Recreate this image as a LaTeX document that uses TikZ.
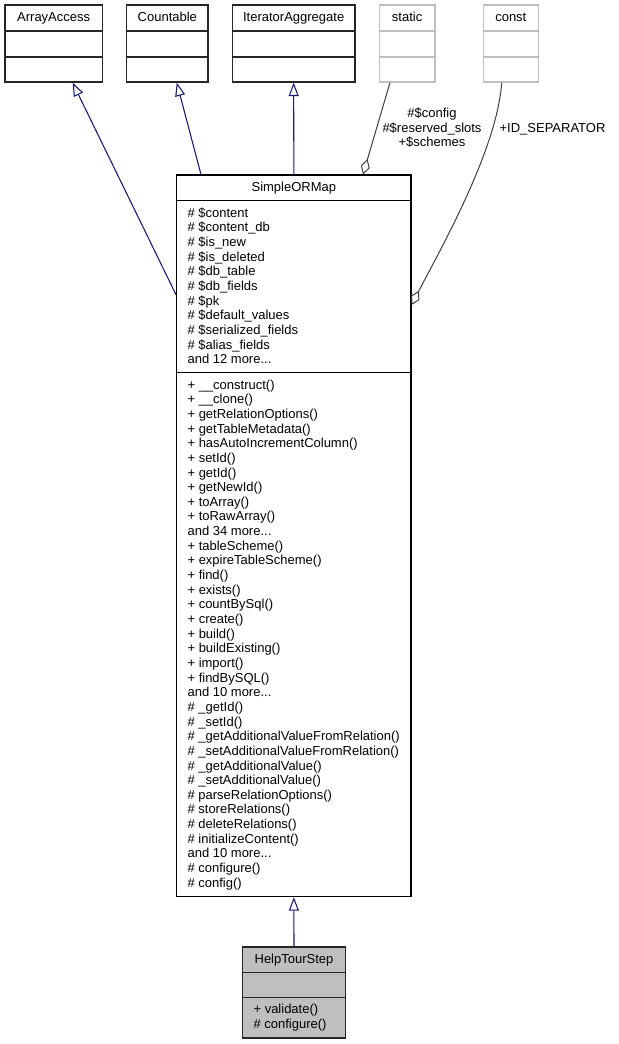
\documentclass[tikz,border=0pt]{standalone}
\usepackage{fontspec}
\setmainfont{Liberation Sans}
\usetikzlibrary{arrows.meta}
\usetikzlibrary{calc}
\usetikzlibrary{fit}
\definecolor{edgeblue}{HTML}{191970}
\definecolor{edgegray}{HTML}{404040}
\definecolor{ghostgray}{HTML}{BFBFBF}
\definecolor{leafgray}{HTML}{BFBFBF}
\newcommand{\umlfont}{\fontsize{9.75pt}{11pt}\selectfont}
\newcommand{\more}[1]{and #1 more...}
\tikzset{cls/.style = {draw=black!85, line width=1.1pt, fill=white, inner sep=0}}
\tikzset{mainclass/.style = {draw=black, line width=0.8pt, fill=white, inner sep=0}}
\tikzset{ghost/.style = {draw=ghostgray, line width=1.1pt, fill=white, inner sep=0}}
\tikzset{leaf/.style = {draw=black!85, line width=1.1pt, fill=leafgray, inner sep=0}}
\tikzset{title/.style = {anchor=base, inner sep=0, font=\umlfont}}
\tikzset{member/.style = {anchor=base west, inner sep=0, font=\umlfont}}
\tikzset{inherit/.style = {draw=edgeblue, line width=0.8pt,
                           -{Triangle[open, length=10pt, width=7.5pt]}}}
\tikzset{aggr/.style = {draw=edgegray, line width=0.75pt,
                        -{Diamond[open, length=12pt, width=7pt]}}}
\begin{document}
\begin{tikzpicture}[x=0.75pt, y=-0.75pt]
  \useasboundingbox (0,0) rectangle (618,1044);

  % parents
  \node [cls, fit={(5,5) (102.3,82)}] (arrayaccess) {};
  \node [cls, fit={(126.7,5) (208,82)}] (countable) {};
  \node [cls, fit={(232.3,5) (355,82)}] (iteraggr) {};
  \node [ghost, fit={(379.3,5) (435,82)}] (static) {};
  \node [ghost, fit={(483.3,5) (538.3,82)}] (const) {};
  \foreach \n/\s in {arrayaccess/cls, countable/cls, iteraggr/cls, static/ghost, const/ghost} {
    \draw [\s] (\n.west |- 0,31) -- (\n.east |- 0,31);
    \draw [\s] (\n.west |- 0,57) -- (\n.east |- 0,57);
  }
  \node [title] at (arrayaccess.north |- 0,21.5) {ArrayAccess};
  \node [title] at (countable.north |- 0,21.5) {Countable};
  \node [title] at (iteraggr.north |- 0,21.5) {IteratorAggregate};
  \node [title] at (static.north |- 0,21.5) {static};
  \node [title] at (const.north |- 0,21.5) {const};

  % SimpleORMap
  \node [mainclass, fit={(176.7,175) (411,896.7)}] (sorm) {};
  \draw [mainclass] (sorm.west |- 0,200.8) -- (sorm.east |- 0,200.8);
  \draw [mainclass] (sorm.west |- 0,372.8) -- (sorm.east |- 0,372.8);
  \node [title] at (sorm.north |- 0,191.5) {SimpleORMap};
  \foreach \t [count=\i from 0] in {\# \$content, \# \$content\_db, \# \$is\_new,
      \# \$is\_deleted, \# \$db\_table, \# \$db\_fields, \# \$pk, \# \$default\_values,
      \# \$serialized\_fields, \# \$alias\_fields, \more{12}}
    \node [member] (sattr\i) at (187.3, {217.3+\i*14.65}) {\t};
  \foreach \t [count=\i from 0] in {+ \_\_construct(), + \_\_clone(), + getRelationOptions(),
      + getTableMetadata(), + hasAutoIncrementColumn(), + setId(), + getId(), + getNewId(),
      + toArray(), + toRawArray(), \more{34}, + tableScheme(), + expireTableScheme(),
      + find(), + exists(), + countBySql(), + create(), + build(), + buildExisting(),
      + import(), + findBySQL(), \more{10}, \# \_getId(), \# \_setId(),
      \# \_getAdditionalValueFromRelation(), \# \_setAdditionalValueFromRelation(),
      \# \_getAdditionalValue(), \# \_setAdditionalValue(), \# parseRelationOptions(),
      \# storeRelations(), \# deleteRelations(), \# initializeContent(), \more{10},
      \# configure(), \# config()}
    \node [member] (sop\i) at (187.3, {389.1+\i*14.65}) {\t};

  % HelpTourStep
  \node [leaf, fit={(242.3,946.8) (345.7,1037.8)}] (helptourstep) {};
  \draw [leaf] (helptourstep.west |- 0,972.5) -- (helptourstep.east |- 0,972.5);
  \draw [leaf] (helptourstep.west |- 0,997.5) -- (helptourstep.east |- 0,997.5);
  \node [title] at (helptourstep.north |- 0,963.3) {HelpTourStep};
  \node [member] (hvalidate) at (253.3,1013.8) {+ validate()};
  \node [member] (hconfigure) at (253.3,1028.45) {\# configure()};

  % edges
  \draw [inherit] (sorm.west |- 0,295) -- ($(arrayaccess.south)+(19,0)$);
  \draw [inherit] (sorm.north -| 201,0) -- ($(countable.south)+(9.4,0)$);
  \draw [inherit] (sorm.north) -- (iteraggr.south);
  \draw [inherit] (helptourstep.north) -- (sorm.south);
  \draw [aggr] ($(static.south)+(-17.2,0)$) -- (sorm.north -| 363,0);
  \draw [aggr] ($(const.south)+(-9.1,0)$) .. controls (497,150) and (440,250) .. (sorm.east |- 0,305);

  \node [title] (lbl config) at (432,117.6) {\#\$config};
  \node [title] (lbl slots) at (432,132.3) {\#\$reserved\_slots};
  \node [title] (lbl schemes) at (432,146.9) {+\$schemes};
  \node [title] (lbl idsep) at (552.5,132.3) {+ID\_SEPARATOR};
\end{tikzpicture}
\end{document}
